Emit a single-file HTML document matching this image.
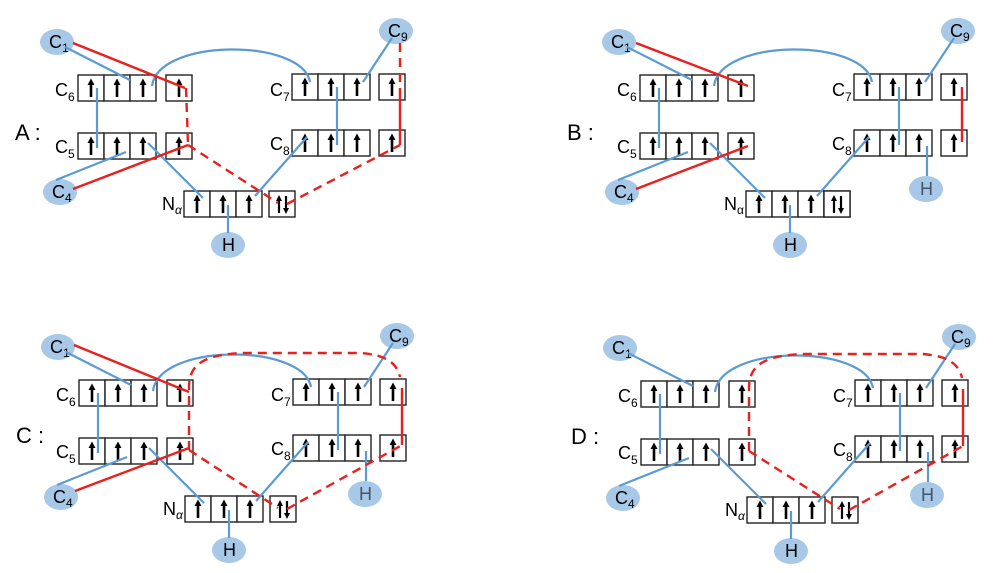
<!DOCTYPE html>
<html><head><meta charset="utf-8"><style>
html,body{margin:0;padding:0;background:#fff;}
svg{display:block;font-family:"Liberation Sans",sans-serif;}
</style></head><body>
<svg width="1004" height="573" viewBox="0 0 1004 573" xmlns="http://www.w3.org/2000/svg">
<defs>
<g id="up"><line x1="13" y1="22" x2="13" y2="9" stroke="#000" stroke-width="2.6"/><polygon points="9.5,10 13,3.5 16.5,10" fill="#000"/></g>
<g id="b1"><rect x="0" y="0" width="26" height="26" fill="#fff" stroke="#222" stroke-width="1.4"/><use href="#up"/></g>
<g id="b3"><use href="#b1"/><use href="#b1" x="26"/><use href="#b1" x="52"/></g>
<g id="ud"><rect x="0" y="0" width="26" height="26" fill="#fff" stroke="#222" stroke-width="1.4"/>
<line x1="10" y1="22" x2="10" y2="9" stroke="#000" stroke-width="2.2"/><polygon points="7,10 10,4 13,10" fill="#000"/>
<line x1="17" y1="5" x2="17" y2="18" stroke="#000" stroke-width="2.2"/><polygon points="14,17 17,23 20,17" fill="#000"/></g>
<g id="common">
<use href="#b3" x="78" y="75"/><use href="#b1" x="166" y="75"/>
<use href="#b3" x="78" y="133"/><use href="#b1" x="166" y="133"/>
<use href="#b3" x="292" y="74"/><use href="#b1" x="379" y="74"/>
<use href="#b3" x="292" y="130"/><use href="#b1" x="379" y="130"/>
<use href="#b3" x="184" y="191"/>
<g font-size="18" fill="#000">
<text x="55" y="96">C<tspan font-size="12" dy="5">6</tspan></text>
<text x="55" y="153">C<tspan font-size="12" dy="5">5</tspan></text>
<text x="270" y="96">C<tspan font-size="12" dy="5">7</tspan></text>
<text x="270" y="150">C<tspan font-size="12" dy="5">8</tspan></text>
</g>
<g fill="#a8c8e8">
<ellipse cx="57" cy="42" rx="17" ry="13"/><ellipse cx="60" cy="192" rx="17" ry="13"/>
<ellipse cx="396" cy="31" rx="17" ry="13"/><ellipse cx="228" cy="245" rx="17" ry="13"/>
</g>
<g font-size="18" fill="#000">
<text x="49" y="48">C<tspan font-size="12" dy="4">1</tspan></text>
<text x="52" y="198">C<tspan font-size="12" dy="4">4</tspan></text>
<text x="388" y="37">C<tspan font-size="12" dy="4">9</tspan></text>
<text x="222" y="251">H</text>
</g>
<g stroke="#5b9bd5" stroke-width="2.2" fill="none">
<line x1="65" y1="47" x2="130" y2="80"/>
<line x1="97" y1="88" x2="97" y2="148"/>
<line x1="56" y1="180" x2="126" y2="152"/>
<line x1="148" y1="143" x2="203" y2="198"/>
<path d="M152,86 C158,38 302,38 310,82"/>
<line x1="337" y1="87" x2="337" y2="145"/>
<line x1="307" y1="137" x2="255" y2="196"/>
<line x1="392" y1="38" x2="363" y2="82"/>
<line x1="228" y1="205" x2="228" y2="233"/>
</g>
</g>
<g id="h2">
<ellipse cx="364" cy="189" rx="17" ry="13" fill="#a8c8e8"/>
<text x="358" y="195" font-size="18" fill="#44546a">H</text>
<line x1="365" y1="146" x2="365" y2="176" stroke="#5b9bd5" stroke-width="2.2"/>
</g>
</defs>

<!-- Panel A -->
<g transform="translate(0,0)">
<use href="#common"/><use href="#ud" x="269" y="191"/>
<text x="162" y="210" font-size="18">N<tspan font-size="12" dy="4" font-style="italic">α</tspan></text>
<text x="15" y="140" font-size="22">A :</text>
<g stroke="#e8201e" stroke-width="2.4" fill="none">
<line x1="73" y1="43" x2="185" y2="88"/>
<line x1="73" y1="189" x2="188" y2="145"/>
<line x1="186" y1="88" x2="188" y2="145" stroke-dasharray="9,6"/>
<line x1="188" y1="145" x2="278" y2="203" stroke-dasharray="9,6"/>
<line x1="287" y1="204" x2="400" y2="145" stroke-dasharray="9,6"/>
<line x1="400" y1="145" x2="400" y2="97"/>
<line x1="400" y1="97" x2="400" y2="37" stroke-dasharray="9,6"/>
</g>
</g>

<!-- Panel B -->
<g transform="translate(562,0)">
<use href="#common"/>
<use href="#b1" x="262" y="191"/>
<g transform="translate(262,191)"><rect x="0" y="0" width="26" height="26" fill="#fff" stroke="#222" stroke-width="1.4"/>
<line x1="10" y1="22" x2="10" y2="9" stroke="#000" stroke-width="2.2"/><polygon points="7,10 10,4 13,10" fill="#000"/>
<line x1="17" y1="5" x2="17" y2="18" stroke="#000" stroke-width="2.2"/><polygon points="14,17 17,23 20,17" fill="#000"/></g>
<use href="#h2"/>
<text x="162" y="210" font-size="18">N<tspan font-size="12" dy="4">α</tspan></text>
<text x="5" y="140" font-size="22">B :</text>
<g stroke="#e8201e" stroke-width="2.4" fill="none">
<line x1="74" y1="43" x2="186" y2="86"/>
<line x1="74" y1="189" x2="186" y2="146"/>
<line x1="400" y1="87" x2="400" y2="142"/>
</g>
</g>

<!-- Panel C -->
<g transform="translate(1,305)">
<use href="#common"/><use href="#ud" x="269" y="191"/><use href="#h2"/>
<text x="162" y="210" font-size="18">N<tspan font-size="12" dy="4" font-style="italic">α</tspan></text>
<text x="15" y="138" font-size="22">C :</text>
<g stroke="#e8201e" stroke-width="2.4" fill="none">
<line x1="73" y1="40" x2="188" y2="87"/>
<line x1="74" y1="186" x2="188" y2="143"/>
<path d="M188,145 L188,82 C188,58 205,50 240,48 L360,48 C385,50 396,58 399,72" stroke-dasharray="9,6"/>
<line x1="188" y1="145" x2="277" y2="203" stroke-dasharray="9,6"/>
<line x1="286" y1="204" x2="401" y2="140" stroke-dasharray="9,6"/>
<line x1="401" y1="140" x2="401" y2="83"/>
</g>
</g>

<!-- Panel D -->
<g transform="translate(563,306)">
<use href="#common"/><use href="#ud" x="269" y="191"/><use href="#h2"/>
<text x="162" y="210" font-size="18">N<tspan font-size="12" dy="4" font-style="italic">α</tspan></text>
<text x="8" y="138" font-size="22">D :</text>
<g stroke="#e8201e" stroke-width="2.4" fill="none">
<path d="M186,145 L186,82 C186,58 203,50 238,48 L360,48 C385,50 396,58 399,72" stroke-dasharray="9,6"/>
<line x1="186" y1="145" x2="277" y2="203" stroke-dasharray="9,6"/>
<line x1="286" y1="204" x2="400" y2="140" stroke-dasharray="9,6"/>
<line x1="400" y1="140" x2="400" y2="83"/>
</g>
</g>
</svg>
</body></html>
